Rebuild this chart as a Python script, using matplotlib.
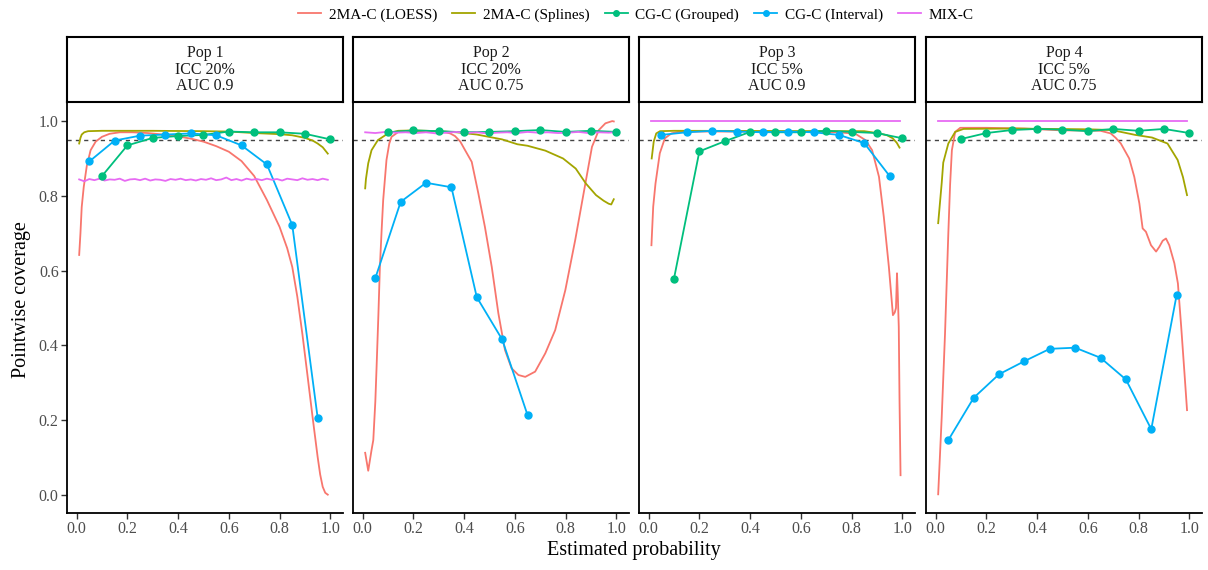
import matplotlib
matplotlib.use('Agg')
import matplotlib.pyplot as plt
from matplotlib.lines import Line2D

plt.rcParams['font.family'] = ['Liberation Serif', 'DejaVu Serif']

# ---------------- data ----------------
series_names = ['2MA-C (LOESS)', '2MA-C (Splines)', 'CG-C (Grouped)', 'CG-C (Interval)', 'MIX-C']
series_colors = ['#F8766D', '#A3A500', '#00BF7D', '#00B0F6', '#E76BF3']
panel_titles = ['Pop 1\nICC 20%\nAUC 0.9', 'Pop 2\nICC 20%\nAUC 0.75',
                'Pop 3\nICC 5%\nAUC 0.9', 'Pop 4\nICC 5%\nAUC 0.75']
x_ticks = [0.0, 0.2, 0.4, 0.6, 0.8, 1.0]
x_tick_labels = ['0.0', '0.2', '0.4', '0.6', '0.8', '1.0']
y_ticks = [0.0, 0.2, 0.4, 0.6, 0.8, 1.0]
y_tick_labels = ['0.0', '0.2', '0.4', '0.6', '0.8', '1.0']
nominal_level = 0.95

grouped_x = [0.1, 0.2, 0.3, 0.4, 0.5, 0.6, 0.7, 0.8, 0.9, 1.0]
interval_x = [0.05, 0.15, 0.25, 0.35, 0.45, 0.55, 0.65, 0.75, 0.85, 0.95]

# Pop 1
p1_loess_x = [0.010, 0.015, 0.020, 0.028, 0.040, 0.055, 0.075, 0.10, 0.13, 0.17, 0.22, 0.28, 0.34,
              0.40, 0.45, 0.50, 0.55, 0.60, 0.65, 0.70, 0.75, 0.80, 0.83, 0.85, 0.87, 0.89, 0.91,
              0.93, 0.95, 0.96, 0.97, 0.98, 0.99]
p1_loess_y = [0.642, 0.700, 0.770, 0.824, 0.880, 0.922, 0.945, 0.958, 0.966, 0.970, 0.970, 0.968, 0.964,
              0.959, 0.953, 0.945, 0.933, 0.918, 0.893, 0.853, 0.789, 0.717, 0.660, 0.610, 0.530, 0.430, 0.320,
              0.209, 0.102, 0.055, 0.022, 0.006, 0.001]
p1_spline_x = [0.010, 0.015, 0.020, 0.030, 0.045, 0.10, 0.30, 0.50, 0.60, 0.70, 0.80, 0.85, 0.90,
               0.93, 0.95, 0.97, 0.99]
p1_spline_y = [0.940, 0.955, 0.964, 0.970, 0.973, 0.974, 0.974, 0.973, 0.972, 0.968, 0.965, 0.962, 0.955,
               0.948, 0.940, 0.930, 0.913]
p1_grouped_y = [0.853, 0.935, 0.955, 0.960, 0.963, 0.972, 0.970, 0.970, 0.966, 0.951]
p1_interval_y = [0.892, 0.948, 0.961, 0.964, 0.967, 0.962, 0.935, 0.884, 0.722, 0.207]
p1_mix_x = [0.01, 0.03, 0.05, 0.07, 0.09, 0.11, 0.13, 0.15, 0.17, 0.19, 0.21, 0.23, 0.25, 0.27, 0.29,
            0.31, 0.33, 0.35, 0.37, 0.39, 0.41, 0.43, 0.45, 0.47, 0.49, 0.51, 0.53, 0.55, 0.57, 0.59,
            0.61, 0.63, 0.65, 0.67, 0.69, 0.71, 0.73, 0.75, 0.77, 0.79, 0.81, 0.83, 0.85, 0.87, 0.89,
            0.91, 0.93, 0.95, 0.97, 0.99]
p1_mix_y = [0.844, 0.839, 0.845, 0.842, 0.846, 0.841, 0.844, 0.843, 0.846, 0.840, 0.844, 0.845, 0.842, 0.846, 0.841,
            0.844, 0.843, 0.840, 0.845, 0.843, 0.846, 0.842, 0.844, 0.841, 0.845, 0.843, 0.847, 0.842, 0.844, 0.849,
            0.842, 0.845, 0.841, 0.846, 0.843, 0.845, 0.842, 0.846, 0.843, 0.845, 0.841, 0.846, 0.844, 0.842, 0.847,
            0.843, 0.845, 0.842, 0.846, 0.843]

# Pop 2
p2_loess_x = [0.010, 0.022, 0.035, 0.042, 0.050, 0.055, 0.062, 0.068, 0.075, 0.081, 0.094, 0.105, 0.114,
              0.141, 0.20, 0.30, 0.325, 0.345, 0.364, 0.385, 0.404, 0.43, 0.456, 0.482, 0.509, 0.535,
              0.561, 0.587, 0.614, 0.641, 0.680, 0.72, 0.759, 0.799, 0.838, 0.878, 0.904, 0.931, 0.957,
              0.984, 0.99]
p2_loess_y = [0.113, 0.065, 0.120, 0.147, 0.250, 0.343, 0.480, 0.610, 0.710, 0.789, 0.896, 0.940, 0.958,
              0.971, 0.973, 0.972, 0.970, 0.967, 0.960, 0.945, 0.922, 0.891, 0.807, 0.717, 0.610, 0.486,
              0.388, 0.339, 0.321, 0.316, 0.330, 0.379, 0.441, 0.548, 0.682, 0.833, 0.931, 0.976, 0.994,
              1.000, 0.999]
p2_spline_x = [0.010, 0.013, 0.022, 0.035, 0.060, 0.10, 0.14, 0.20, 0.30, 0.37, 0.45, 0.55, 0.61, 0.65,
               0.72, 0.79, 0.84, 0.88, 0.92, 0.95, 0.97, 0.98, 0.99]
p2_spline_y = [0.820, 0.845, 0.887, 0.922, 0.949, 0.967, 0.974, 0.975, 0.973, 0.970, 0.964, 0.951, 0.938, 0.934,
               0.921, 0.900, 0.873, 0.833, 0.802, 0.787, 0.779, 0.777, 0.791]
p2_grouped_y = [0.970, 0.975, 0.973, 0.970, 0.971, 0.973, 0.976, 0.971, 0.974, 0.971]
p2_interval_x = [0.05, 0.15, 0.25, 0.35, 0.45, 0.55, 0.65]
p2_interval_y = [0.580, 0.784, 0.835, 0.823, 0.529, 0.416, 0.214]
p2_mix_x = [0.01, 0.05, 0.09, 0.13, 0.17, 0.21, 0.25, 0.29, 0.33, 0.37, 0.41, 0.45, 0.49, 0.53,
            0.57, 0.61, 0.65, 0.69, 0.73, 0.77, 0.81, 0.85, 0.89, 0.93, 0.97, 0.99]
p2_mix_y = [0.970, 0.968, 0.971, 0.969, 0.970, 0.968, 0.970, 0.967, 0.969, 0.971, 0.968, 0.970, 0.967, 0.969,
            0.970, 0.968, 0.971, 0.969, 0.970, 0.968, 0.969, 0.971, 0.968, 0.970, 0.969, 0.970]

# Pop 3
p3_loess_x = [0.011, 0.018, 0.027, 0.044, 0.064, 0.09, 0.116, 0.20, 0.40, 0.60, 0.75, 0.815, 0.855,
              0.881, 0.908, 0.927, 0.947, 0.963, 0.970, 0.975, 0.979, 0.982, 0.986, 0.989, 0.993]
p3_loess_y = [0.668, 0.771, 0.833, 0.914, 0.954, 0.967, 0.971, 0.972, 0.972, 0.971, 0.970, 0.966, 0.949,
              0.922, 0.851, 0.744, 0.610, 0.481, 0.488, 0.500, 0.593, 0.540, 0.450, 0.254, 0.053]
p3_spline_x = [0.012, 0.020, 0.030, 0.045, 0.10, 0.85, 0.909, 0.94, 0.962, 0.978, 0.989]
p3_spline_y = [0.900, 0.945, 0.967, 0.973, 0.974, 0.973, 0.967, 0.962, 0.954, 0.942, 0.929]
p3_grouped_y = [0.579, 0.919, 0.946, 0.971, 0.970, 0.970, 0.974, 0.971, 0.968, 0.954]
p3_interval_y = [0.963, 0.970, 0.974, 0.972, 0.970, 0.972, 0.970, 0.963, 0.941, 0.853]
p3_mix_x = [0.01, 0.25, 0.50, 0.75, 0.99]
p3_mix_y = [1.0, 1.0, 1.0, 1.0, 1.0]

# Pop 4
p4_loess_x = [0.010, 0.024, 0.037, 0.050, 0.057, 0.064, 0.077, 0.097, 0.20, 0.35, 0.50, 0.60, 0.65,
              0.69, 0.71, 0.73, 0.763, 0.783, 0.803, 0.816, 0.829, 0.849, 0.869, 0.882, 0.895, 0.908,
              0.921, 0.941, 0.955, 0.968, 0.981, 0.991]
p4_loess_y = [0.002, 0.209, 0.432, 0.700, 0.830, 0.922, 0.971, 0.982, 0.982, 0.980, 0.975, 0.975, 0.974,
              0.967, 0.955, 0.940, 0.900, 0.851, 0.780, 0.713, 0.704, 0.668, 0.651, 0.664, 0.680, 0.686,
              0.668, 0.620, 0.566, 0.450, 0.325, 0.227]
p4_spline_x = [0.010, 0.024, 0.030, 0.050, 0.077, 0.11, 0.30, 0.60, 0.695, 0.787, 0.853, 0.914, 0.954,
               0.975, 0.991]
p4_spline_y = [0.727, 0.835, 0.889, 0.940, 0.971, 0.979, 0.980, 0.978, 0.976, 0.963, 0.956, 0.940, 0.896,
               0.850, 0.802]
p4_grouped_y = [0.952, 0.968, 0.976, 0.979, 0.977, 0.973, 0.979, 0.974, 0.979, 0.968]
p4_interval_y = [0.147, 0.260, 0.323, 0.358, 0.391, 0.394, 0.367, 0.309, 0.176, 0.535]
p4_mix_x = [0.01, 0.25, 0.50, 0.75, 0.99]
p4_mix_y = [1.0, 1.0, 1.0, 1.0, 1.0]

panels = [
    dict(loess=(p1_loess_x, p1_loess_y), spline=(p1_spline_x, p1_spline_y),
         grouped=(grouped_x, p1_grouped_y), interval=(interval_x, p1_interval_y), mix=(p1_mix_x, p1_mix_y)),
    dict(loess=(p2_loess_x, p2_loess_y), spline=(p2_spline_x, p2_spline_y),
         grouped=(grouped_x, p2_grouped_y), interval=(p2_interval_x, p2_interval_y), mix=(p2_mix_x, p2_mix_y)),
    dict(loess=(p3_loess_x, p3_loess_y), spline=(p3_spline_x, p3_spline_y),
         grouped=(grouped_x, p3_grouped_y), interval=(interval_x, p3_interval_y), mix=(p3_mix_x, p3_mix_y)),
    dict(loess=(p4_loess_x, p4_loess_y), spline=(p4_spline_x, p4_spline_y),
         grouped=(grouped_x, p4_grouped_y), interval=(interval_x, p4_interval_y), mix=(p4_mix_x, p4_mix_y)),
]

# ---------------- layout ----------------
W, H = 1208, 570
fig = plt.figure(figsize=(W / 100, H / 100), dpi=100)
panel_lefts = [67, 353, 639, 926]
panel_w = 276
ax_top, ax_bot = 102, 513
strip_top = 37

lw = 1.3
ms = 5.0
tick_color = '#4D4D4D'

for i, (left, pdata, title) in enumerate(zip(panel_lefts, panels, panel_titles)):
    ax = fig.add_axes([left / W, (H - ax_bot) / H, panel_w / W, (ax_bot - ax_top) / H])
    ax.axhline(nominal_level, color='#444444', lw=1.0, ls=(0, (3, 3)), zorder=1)
    keys = ['loess', 'spline', 'grouped', 'interval', 'mix']
    for k, c in zip(keys, series_colors):
        xs, ys = pdata[k]
        ax.plot(xs, ys, color=c, lw=lw, zorder=2, solid_joinstyle='round')
    for k in ['grouped', 'interval']:
        c = series_colors[keys.index(k)]
        xs, ys = pdata[k]
        ax.plot(xs, ys, ls='none', marker='o', ms=ms, color=c, mec=c, zorder=3)
    ax.set_xlim(-0.038, 1.05)
    ax.set_ylim(-0.048, 1.051)
    ax.set_xticks(x_ticks)
    ax.set_xticklabels(x_tick_labels)
    ax.set_yticks(y_ticks)
    if i == 0:
        ax.set_yticklabels(y_tick_labels)
        ax.tick_params(axis='y', length=4, width=1.0, color='#333333', labelsize=11.5,
                       labelcolor=tick_color, pad=2)
    else:
        ax.tick_params(axis='y', length=0, labelleft=False)
    ax.tick_params(axis='x', length=4, width=1.0, color='#333333', labelsize=11.5,
                   labelcolor=tick_color, pad=2)
    for s in ['top', 'right']:
        ax.spines[s].set_visible(False)
    for s in ['left', 'bottom']:
        ax.spines[s].set_linewidth(1.3)
        ax.spines[s].set_color('black')

    sax = fig.add_axes([left / W, (H - ax_top) / H, panel_w / W, (ax_top - strip_top) / H])
    sax.set_xticks([])
    sax.set_yticks([])
    for s in sax.spines.values():
        s.set_linewidth(1.5)
        s.set_color('black')
    sax.text(0.5, 0.5, title, ha='center', va='center', fontsize=11.5,
             linespacing=1.05, transform=sax.transAxes, color='#1A1A1A')

fig.text(22 / W, 1 - 300 / H, 'Pointwise coverage', rotation=90, ha='center', va='center', fontsize=14.5)
fig.text(634 / W, 1 - 551 / H, 'Estimated probability', ha='center', va='center', fontsize=14.5)

handles = []
for name, c in zip(series_names, series_colors):
    if name.startswith('CG'):
        handles.append(Line2D([], [], color=c, lw=lw, marker='o', ms=4))
    else:
        handles.append(Line2D([], [], color=c, lw=lw))
fig.legend(handles, series_names, loc='center', bbox_to_anchor=(636 / W, 1 - 15 / H), ncol=5,
           frameon=False, fontsize=11, handlelength=1.5, handletextpad=0.5, columnspacing=1.0)

fig.savefig('out.png', dpi=100)
